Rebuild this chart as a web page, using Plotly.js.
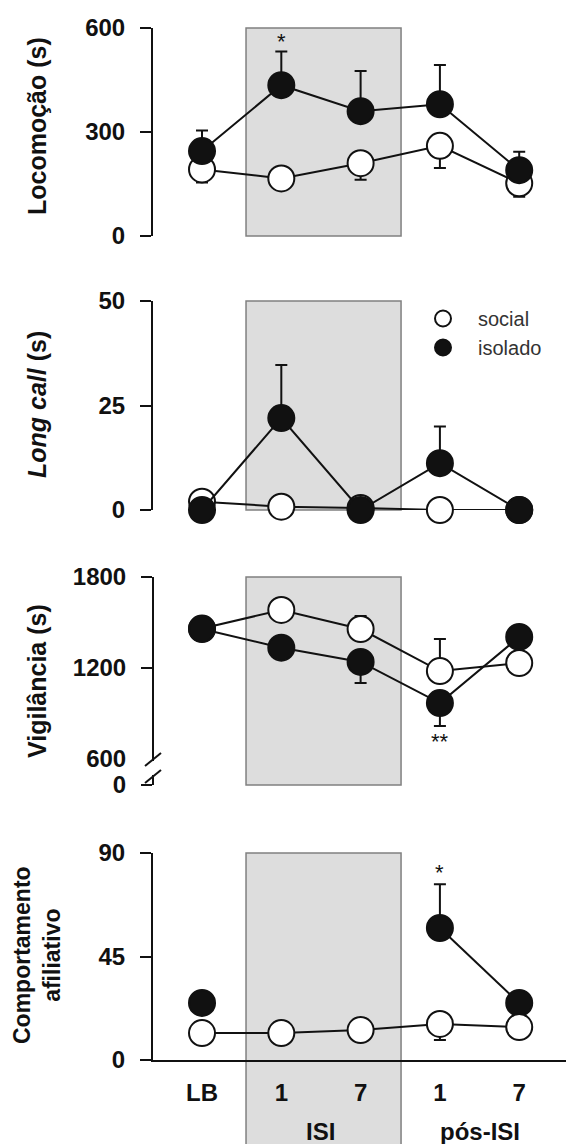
<!DOCTYPE html>
<html><head><meta charset="utf-8">
<script src="https://cdn.plot.ly/plotly-3.0.1.min.js"></script>
<style>html,body{margin:0;padding:0;background:#fff}#chart{width:566px;height:1144px}</style>
</head><body><div id="chart"></div>
<script>
// ---- data ----
const categories = ['LB', '1', '7', '1', '7'];
const groupLabels = ['ISI', 'pós-ISI'];
const groupCenters = [1.5, 3.5];
const seriesNames = ['social', 'isolado'];
const panelTitles = ['Locomoção (s)', '<i>Long call</i> (s)', 'Vigilância (s)', 'Comportamento<br>afiliativo'];

const locoSocial = [192, 166, 210, 260, 152];
const locoSocialErr = [38, 0, 48, 64, 39];
const locoIsolado = [245, 435, 360, 380, 190];
const locoIsoladoErr = [59, 97, 116, 113, 53];

const callSocial = [2, 0.8, 0.5, 0, 0];
const callSocialErr = [0, 0, 0, 0, 0];
const callIsolado = [0, 22, 0, 11.2, 0];
const callIsoladoErr = [0, 12.7, 0, 8.8, 0];

const vigSocial = [1460, 1583, 1457, 1180, 1233];
const vigSocialErr = [0, 0, 86, 211, 0];
const vigIsolado = [1457, 1334, 1240, 969, 1405];
const vigIsoladoErr = [0, 59, 139, 151, 0];

const afilSocial = [11.7, 11.7, 13, 15.7, 14.3];
const afilSocialErr = [0, 0, 0, 7, 0];
const afilIsolado = [24.8, null, null, 57.4, 24.8];
const afilIsoladoErr = [0, 0, 0, 19, 0];

const locoTicks = [0, 300, 600];
const callTicks = [0, 25, 50];
const vigTicks = [1800, 1200];
const vigBreakLabel = 600;
const afilTicks = [0, 45, 90];

// ---- helpers ----
const FONT = 'Liberation Sans, Arial, sans-serif';
const INK = '#111';
const W = 566, H = 1144, ML = 153;
const PX = px => (px - ML) / (W - ML);
const PY = py => 1 - py / H;
const xs = categories.map((_, i) => i);
const TICKSIZE = 24;

function trace(ys, errs, dir, ax, filled) {
  const zeros = errs.map(() => 0);
  return {
    x: xs, y: ys, xaxis: 'x', yaxis: ax, type: 'scatter', mode: 'lines+markers',
    showlegend: false, cliponaxis: false, hoverinfo: 'skip',
    line: {color: INK, width: 2},
    marker: {size: 26, color: filled ? INK : '#fff', line: {color: INK, width: 2}},
    error_y: {type: 'data', symmetric: false, visible: true,
      array: dir === 'up' ? errs : zeros, arrayminus: dir === 'down' ? errs : zeros,
      color: INK, thickness: 2, width: 6}
  };
}

const data = [
  trace(locoSocial, locoSocialErr, 'down', 'y', false),
  trace(locoIsolado, locoIsoladoErr, 'up', 'y', true),
  trace(callSocial, callSocialErr, 'down', 'y2', false),
  trace(callIsolado, callIsoladoErr, 'up', 'y2', true),
  trace(vigSocial, vigSocialErr, 'up', 'y3', false),
  trace(vigIsolado, vigIsoladoErr, 'down', 'y3', true),
  trace(afilIsolado, afilIsoladoErr, 'up', 'y4', true),
  trace(afilSocial, afilSocialErr, 'down', 'y4', false),
  // carrier for the "600" label of the broken axis
  {x: [null], y: [null], xaxis: 'x', yaxis: 'y5', type: 'scatter', mode: 'markers', showlegend: false},
  // legend entries
  {x: [null], y: [null], xaxis: 'x', yaxis: 'y2', type: 'scatter', mode: 'markers', name: seriesNames[0],
   marker: {size: 16, color: '#fff', line: {color: INK, width: 2}}},
  {x: [null], y: [null], xaxis: 'x', yaxis: 'y2', type: 'scatter', mode: 'markers', name: seriesNames[1],
   marker: {size: 16, color: INK, line: {color: INK, width: 2}}}
];

function yax(domain, range, tickvals, ticktext, showline) {
  return {
    domain: domain, range: range, anchor: 'x', tickmode: 'array', tickvals: tickvals,
    ticktext: ticktext || tickvals.map(String),
    showline: showline !== false, linecolor: INK, linewidth: 2,
    ticks: 'outside', ticklen: 11, tickwidth: 2, tickcolor: INK, ticklabelstandoff: 10,
    tickfont: {family: FONT, size: TICKSIZE, color: INK, weight: 'bold'},
    showgrid: false, zeroline: false, fixedrange: true
  };
}

const d1 = [PY(236), PY(28)];
const d2 = [PY(510), PY(301)];
const d3 = [PY(785), PY(577)];
const d4 = [PY(1060), PY(853)];
const vigZero = 428.6;

const layout = {
  width: W, height: H,
  margin: {l: ML, r: 0, t: 0, b: 0},
  paper_bgcolor: '#fff', plot_bgcolor: 'rgba(0,0,0,0)',
  font: {family: FONT, color: INK},
  showlegend: true,
  legend: {x: PX(408), y: PY(299), xanchor: 'left', yanchor: 'top',
    bgcolor: 'rgba(0,0,0,0)', itemwidth: 60, font: {family: FONT, size: 20, color: '#333'}},
  xaxis: {
    domain: [0, 1], anchor: 'y4', range: [-0.618, 4.59],
    tickmode: 'array', tickvals: xs, ticktext: categories,
    showline: true, linecolor: INK, linewidth: 2, ticks: '', ticklabelstandoff: 10,
    tickfont: {family: FONT, size: TICKSIZE, color: INK, weight: 'bold'},
    showgrid: false, zeroline: false, fixedrange: true
  },
  yaxis: yax(d1, [0, 600], locoTicks),
  yaxis2: yax(d2, [0, 50], callTicks),
  yaxis3: yax(d3, [vigZero, 1800], vigTicks.concat([vigZero]), vigTicks.map(String).concat(['0']), false),
  yaxis4: yax(d4, [0, 90], afilTicks),
  yaxis5: Object.assign(yax(d3, [vigZero, 1800], [vigBreakLabel], null, false),
    {overlaying: 'y3', tickcolor: 'rgba(0,0,0,0)'}),
  shapes: [],
  annotations: []
};

// grey ISI windows
const greyRect = (ref, y0, y1) => ({type: 'rect', xref: 'x', yref: ref + ' domain', x0: 0.555, x1: 2.51,
  y0: y0, y1: y1, layer: 'below', fillcolor: '#dddddd', line: {color: '#808080', width: 1.5}});
layout.shapes.push(greyRect('y', 0, 1), greyRect('y2', 0, 1), greyRect('y3', 0, 1), greyRect('y4', -0.6, 1));

// broken axis for Vigilância
const seg = (x0, y0, x1, y1) => ({type: 'line', xref: 'paper', yref: 'paper',
  x0: PX(x0), y0: PY(y0), x1: PX(x1), y1: PY(y1), line: {color: INK, width: 2}});
layout.shapes.push(seg(153, 577, 153, 761), seg(145, 766, 161, 753), seg(145, 783, 161, 770), seg(153, 775, 153, 785));

// y titles
const titleY = [126, 405, 681, 955];
panelTitles.forEach((t, i) => layout.annotations.push({
  text: '<b>' + t + '</b>', xref: 'paper', yref: 'paper', x: PX(37), y: PY(titleY[i]),
  xanchor: 'center', yanchor: 'middle', textangle: -90, showarrow: false,
  font: {family: FONT, size: i === 3 ? 23 : 25, color: INK}
}));

// significance marks
const stars = [
  {ax: 'y', x: 1, y: locoIsolado[1] + locoIsoladoErr[1] + 30, t: '*'},
  {ax: 'y3', x: 3, y: vigIsolado[3] - vigIsoladoErr[3] - 100, t: '**'},
  {ax: 'y4', x: 3, y: afilIsolado[3] + afilIsoladoErr[3] + 5, t: '*'}
];
stars.forEach(s => layout.annotations.push({text: s.t, xref: 'x', yref: s.ax, x: s.x, y: s.y,
  showarrow: false, xanchor: 'center', yanchor: 'middle', font: {family: FONT, size: 22, color: INK}}));

// group labels
groupLabels.forEach((g, i) => layout.annotations.push({text: '<b>' + g + '</b>', xref: 'x', yref: 'paper',
  x: groupCenters[i], y: PY(1131), showarrow: false, xanchor: 'center', yanchor: 'middle',
  font: {family: FONT, size: TICKSIZE, color: INK}}));

Plotly.newPlot('chart', data, layout, {displayModeBar: false, staticPlot: true});
</script></body></html>
